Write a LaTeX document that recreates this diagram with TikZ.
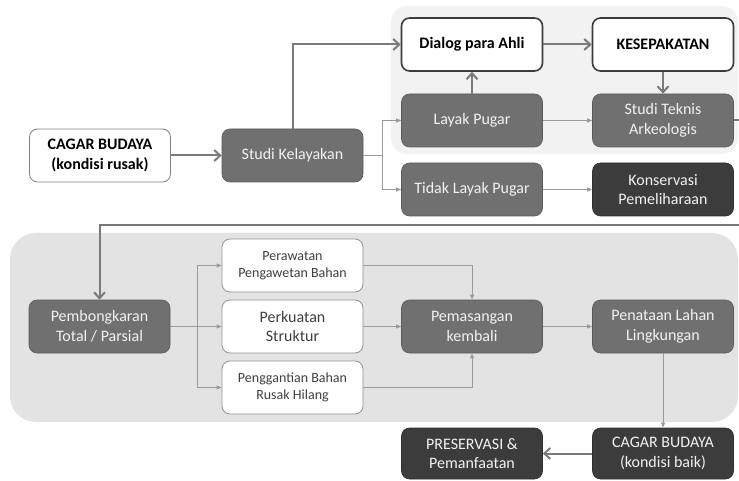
\documentclass[tikz,border=0pt]{standalone}
\usepackage{fontspec}
\setmainfont{Carlito}
\usetikzlibrary{arrows.meta}
\definecolor{midbox}{HTML}{707070}
\definecolor{darkbox}{HTML}{3C3C3C}
\definecolor{panelA}{HTML}{F2F2F2}
\definecolor{panelB}{HTML}{E3E3E3}
\definecolor{linegray}{HTML}{7A7A7A}
\definecolor{thingray}{HTML}{9A9A9A}
\definecolor{txtdark}{HTML}{404040}
\tikzset{
  base/.style={rectangle, rounded corners=8pt, minimum width=141pt, minimum height=53pt, inner sep=0pt, align=center, font=\fontsize{16}{19.5}\selectfont},
  whitebox/.style={base, draw=gray!85, line width=0.8pt, fill=white, text=txtdark},
  keybox/.style={base, draw=darkbox, line width=1.6pt, fill=white, text=black, font=\fontsize{16}{19.5}\selectfont\bfseries},
  midnode/.style={base, draw=midbox!80!black, line width=0.6pt, fill=midbox, text=white!95!black},
  darknode/.style={base, draw=darkbox!80!black, line width=0.6pt, fill=darkbox, text=white!95!black},
  smalltext/.style={font=\fontsize{14}{17}\selectfont},
  thickconn/.style={draw=linegray, line width=2pt, -{Straight Barb[length=6pt,width=11pt,line width=2pt]}},
  thickline/.style={draw=linegray, line width=2pt},
  thinconn/.style={draw=thingray, line width=0.9pt, -{Triangle[length=5pt,width=4pt]}},
  thinline/.style={draw=thingray, line width=0.9pt},
}
\begin{document}
\begin{tikzpicture}[x=1pt,y=-1pt]
\useasboundingbox (0,0) rectangle (739,481);
% panels
\fill[panelA, rounded corners=16pt] (391,6) rectangle (738,154);
\fill[panelB, rounded corners=26pt] (10,233) rectangle (738,422);

% nodes
\node[whitebox, draw=gray, font=\fontsize{16}{19.5}\selectfont\bfseries, text=black] (cbr) at (100,155.5) {CAGAR BUDAYA\\(kondisi rusak)};
\node[midnode] (sk) at (292.5,155.5) {Studi Kelayakan};
\node[keybox] (dpa) at (472,44.5) {Dialog para Ahli};
\node[keybox] (kes) at (663,44.5) {KESEPAKATAN};
\node[midnode] (lp) at (472,120.5) {Layak Pugar};
\node[midnode] (stk) at (663,120.5) {Studi Teknis\\Arkeologis};
\node[midnode] (tlp) at (472,189.5) {Tidak Layak Pugar};
\node[darknode] (kp) at (663,189.5) {Konservasi\\Pemeliharaan};

\node[midnode] (pb) at (99.5,326.5) {Pembongkaran\\Total / Parsial};
\node[whitebox, smalltext] (ppb) at (292.5,265.5) {Perawatan\\Pengawetan Bahan};
\node[whitebox] (ps) at (292.5,326.5) {Perkuatan\\Struktur};
\node[whitebox, smalltext] (pbrh) at (292.5,387.5) {Penggantian Bahan\\Rusak Hilang};
\node[midnode] (pk) at (472,326.5) {Pemasangan\\kembali};
\node[midnode] (pll) at (663,326.5) {Penataan Lahan\\Lingkungan};
\node[darknode, minimum height=51pt] (cbb) at (663,453.5) {CAGAR BUDAYA\\(kondisi baik)};
\node[darknode, minimum height=51pt] (pres) at (472,453.5) {PRESERVASI \&\\Pemanfaatan};

% coordinates
\coordinate (s1) at (382,155.5);
\coordinate (s2) at (197,326.5);
\coordinate (r1) at (752,120.5);
\coordinate (r2) at (752,225);
\coordinate (r3) at (99.5,225);

% thick connectors
\draw[thickconn] (cbr) -- (sk);
\draw[thickconn] (sk.north) |- (dpa.west);
\draw[thickconn] (lp.north) -- (dpa.south);
\draw[thickconn] (dpa) -- (kes);
\draw[thickconn] (kes.south) -- (stk.north);
\draw[thickconn] (stk.east) -- (r1) -- (r2) -- (r3) -- (pb.north);
\draw[thickconn] (cbb) -- (pres);

% thin connectors
\draw[thinline] (sk.east) -- (s1);
\draw[thinconn] (s1) |- (lp.west);
\draw[thinconn] (s1) |- (tlp.west);
\draw[thinconn] (lp) -- (stk);
\draw[thinconn] (tlp) -- (kp);

\draw[thinline] (pb.east) -- (s2);
\draw[thinconn] (s2) |- (ppb.west);
\draw[thinconn] (s2) -- (ps.west);
\draw[thinconn] (s2) |- (pbrh.west);
\draw[thinconn] (ppb.east) -| (pk.north);
\draw[thinconn] (ps) -- (pk);
\draw[thinconn] (pbrh.east) -| (pk.south);
\draw[thinconn] (pk) -- (pll);
\draw[thinconn] (pll) -- (cbb);
\end{tikzpicture}
\end{document}
